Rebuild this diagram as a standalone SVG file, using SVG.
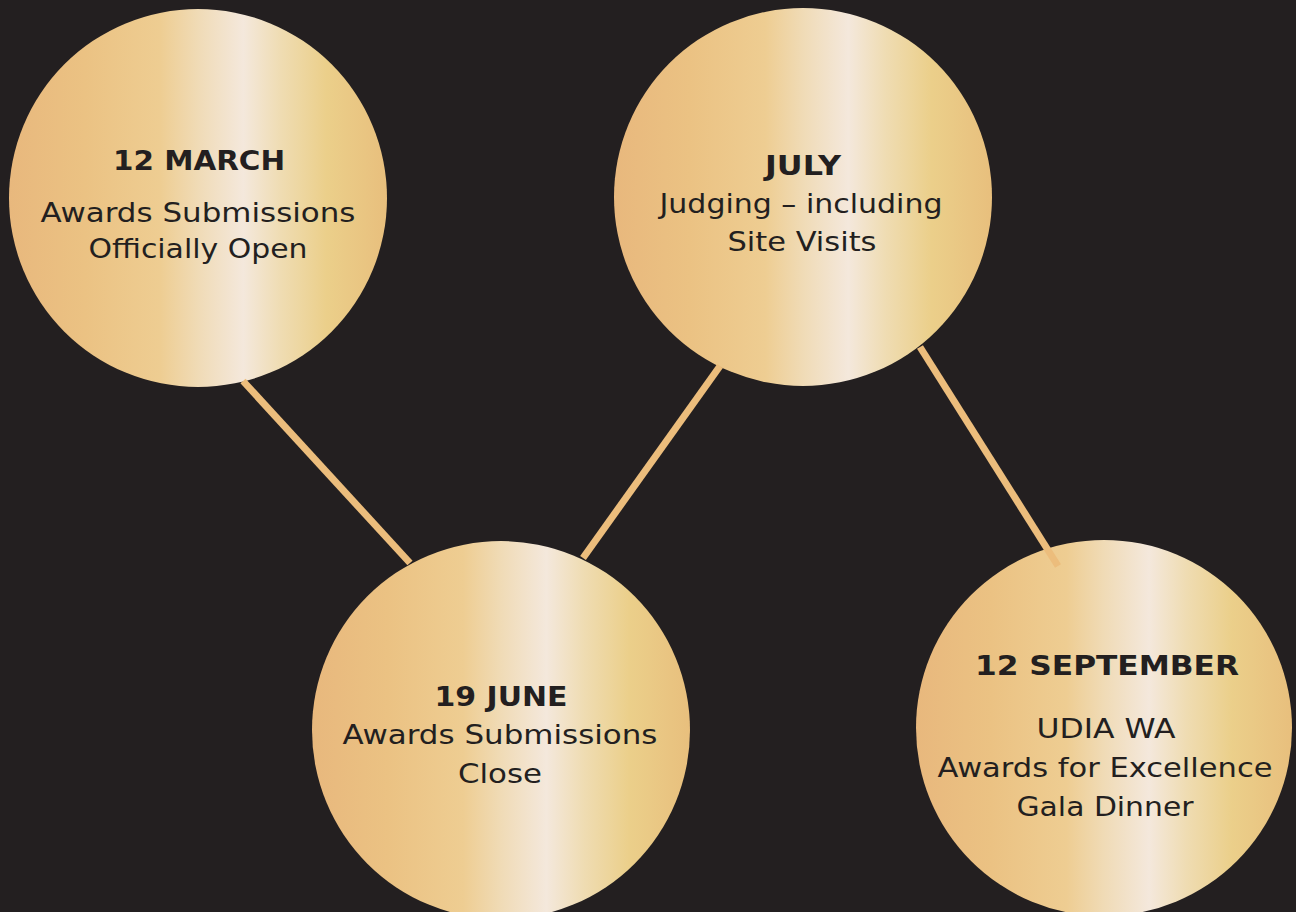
<svg xmlns="http://www.w3.org/2000/svg" width="1296" height="912" viewBox="0 0 1296 912">
<defs>
<linearGradient id="gold" x1="0" y1="0" x2="1" y2="0">
<stop offset="0" stop-color="#e8b87d"/>
<stop offset="0.2" stop-color="#ebc283"/>
<stop offset="0.4" stop-color="#eecd92"/>
<stop offset="0.5" stop-color="#f0dbb6"/>
<stop offset="0.62" stop-color="#f4e8dc"/>
<stop offset="0.72" stop-color="#efdcb2"/>
<stop offset="0.84" stop-color="#ebcf8a"/>
<stop offset="1" stop-color="#e8bf7d"/>
</linearGradient>
<style>
.node{fill:url(#gold);}
.t{font-family:"DejaVu Sans","Liberation Sans",sans-serif;font-size:27px;fill:#231f20;text-anchor:middle;}
.b{font-weight:bold;}
.c{stroke:#ecbd7c;stroke-width:7;fill:none;}
</style>
</defs>
<rect width="1296" height="912" fill="#231f20"/>
<g id="n1">
<circle class="node" cx="198" cy="198" r="189"/>
<text class="t b" x="199" y="170" textLength="172" lengthAdjust="spacingAndGlyphs">12 MARCH</text>
<text class="t" x="198" y="222" textLength="315" lengthAdjust="spacingAndGlyphs">Awards Submissions</text>
<text class="t" x="198" y="258" textLength="219" lengthAdjust="spacingAndGlyphs">Officially Open</text>
</g>
<g id="n2">
<circle class="node" cx="803" cy="197" r="189"/>
<text class="t b" x="803" y="175" textLength="76" lengthAdjust="spacingAndGlyphs">JULY</text>
<text class="t" x="801" y="213" textLength="283" lengthAdjust="spacingAndGlyphs">Judging – including</text>
<text class="t" x="802" y="251" textLength="149" lengthAdjust="spacingAndGlyphs">Site Visits</text>
</g>
<g id="n3">
<circle class="node" cx="501" cy="730" r="189"/>
<text class="t b" x="501" y="706" textLength="133" lengthAdjust="spacingAndGlyphs">19 JUNE</text>
<text class="t" x="500" y="744" textLength="315" lengthAdjust="spacingAndGlyphs">Awards Submissions</text>
<text class="t" x="500" y="783" textLength="84" lengthAdjust="spacingAndGlyphs">Close</text>
</g>
<g id="n4">
<circle class="node" cx="1104" cy="728" r="188"/>
<text class="t b" x="1107" y="675" textLength="264" lengthAdjust="spacingAndGlyphs">12 SEPTEMBER</text>
<text class="t" x="1106" y="738" textLength="139" lengthAdjust="spacingAndGlyphs">UDIA WA</text>
<text class="t" x="1105" y="777" textLength="335" lengthAdjust="spacingAndGlyphs">Awards for Excellence</text>
<text class="t" x="1105" y="816" textLength="177" lengthAdjust="spacingAndGlyphs">Gala Dinner</text>
</g>
<g id="connectors">
<line class="c" x1="243" y1="381" x2="410" y2="563"/>
<line class="c" x1="720" y1="366" x2="583" y2="558"/>
<line class="c" x1="920" y1="347" x2="1058" y2="566"/>
</g>
</svg>
